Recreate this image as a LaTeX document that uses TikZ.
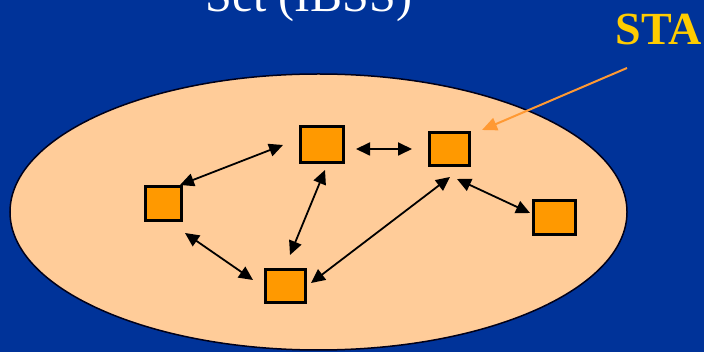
\documentclass[tikz,border=0pt]{standalone}
\usepackage{fontspec}
\setmainfont{Liberation Serif}
\usetikzlibrary{arrows.meta,calc}
\definecolor{bgblue}{HTML}{003399}
\definecolor{peach}{HTML}{FFCC99}
\definecolor{staorange}{HTML}{FF9900}
\definecolor{gold}{HTML}{FFCC00}
\definecolor{ptr}{HTML}{FF9933}
\tikzset{
  sta/.style={draw=black, fill=staorange, line width=3pt, outer sep=0pt, inner sep=0pt},
  link/.style={black, line width=1.8pt, {Triangle[length=14pt,width=13pt]}-{Triangle[length=14pt,width=13pt]}},
  pointer/.style={ptr, line width=2pt, -{Triangle[length=15pt,width=13pt]}},
}
\begin{document}
\begin{tikzpicture}[x=1pt,y=-1pt]
\fill[bgblue] (0,0) rectangle (704,352);
\useasboundingbox (0,0) rectangle (704,352);
\node[anchor=base, text=white, font=\fontsize{48}{50}\selectfont] (title) at (309,12) {Set (IBSS)};
\node[anchor=base west, text=gold, font=\fontsize{46}{50}\selectfont\bfseries] (label) at (612,45) {STA};
\draw[fill=peach, draw=black!90!blue, line width=1.5pt] (318.5,212) ellipse [x radius=308.5, y radius=138];
\node[sta, minimum width=36pt, minimum height=34pt] (A) at (163.5,203.5) {};
\node[sta, minimum width=43pt, minimum height=36pt] (B) at (322,144.5) {};
\node[sta, minimum width=40pt, minimum height=33pt] (C) at (449.5,149) {};
\node[sta, minimum width=40pt, minimum height=33pt] (D) at (285.5,286) {};
\node[sta, minimum width=42pt, minimum height=34pt] (E) at (554.5,217.5) {};
\draw[link] ($(A)+(16.5,-18.5)$) -- ($(B)+(-39,0.5)$);
\draw[link] ($(B)+(34,4.5)$) -- ($(C)+(-37.5,0)$);
\draw[link] ($(B)+(3,25.5)$) -- ($(D)+(4.5,-31)$);
\draw[link] ($(C)+(0.5,28)$) -- ($(D)+(25.5,-3)$);
\draw[link] ($(C)+(7.5,30)$) -- ($(E)+(-24.5,-4.5)$);
\draw[link] ($(A)+(21.5,29.5)$) -- ($(D)+(-32.5,-6)$);
\coordinate (ptrstart) at (627,68);
\draw[pointer] (ptrstart) -- ($(C)+(32.5,-19)$);
\end{tikzpicture}
\end{document}
